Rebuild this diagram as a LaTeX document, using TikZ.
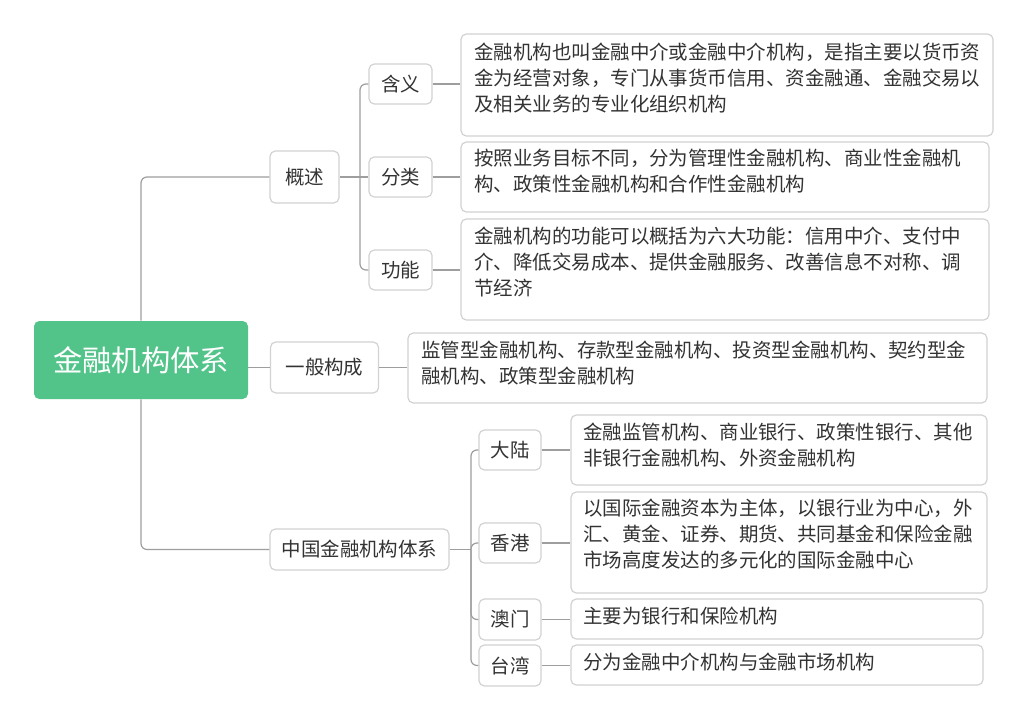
\documentclass[tikz,border=0pt]{standalone}
\usepackage{fontspec}
\setmainfont{Noto Sans CJK SC}
\usetikzlibrary{fit}
\definecolor{rootgreen}{HTML}{52C48A}
\definecolor{boxgray}{HTML}{D2D2D2}
\definecolor{linegray}{HTML}{9E9E9E}
\definecolor{textgray}{HTML}{333333}
\newcommand{\fstrut}{\rule{0pt}{15pt}}
\tikzset{
  conn/.style={draw=linegray, line width=0.9pt, rounded corners=4.5pt},
  topic/.style={draw=boxgray, line width=0.9pt, rounded corners=4pt, fill=white,
    text=textgray, font=\fontsize{14.6}{19.5}\selectfont, inner sep=0pt},
  dbox/.style={draw=boxgray, line width=0.9pt, rounded corners=4pt, fill=white, inner sep=0pt},
  dtext/.style={text=textgray, font=\fontsize{14.6}{19.5}\selectfont, inner sep=0pt,
    align=left, anchor=north west},
  rootbox/.style={fill=rootgreen, rounded corners=4pt, text=white,
    font=\fontsize{22}{26}\selectfont, inner sep=0pt,
    minimum width=160.5pt, minimum height=58.5pt},
}
\begin{document}
\begin{tikzpicture}[x=0.75pt, y=-0.75pt]
\useasboundingbox[fill=white] (0,0) rectangle (1027,720);

% root
\node[rootbox] (root) at (141,360) {金融机构体系};

% level 1
\node[topic, minimum width=51.75pt, minimum height=39pt] (gaishu) at (304.5,177) {概述};
\node[topic, minimum width=81pt, minimum height=38.25pt] (yiban) at (324.5,367.5) {一般构成};
\node[topic, minimum width=134.25pt, minimum height=30.75pt] (zhongguo) at (359.5,549.5) {中国金融机构体系};

% level 2
\node[topic, minimum width=47.25pt, minimum height=30pt] (hanyi) at (400.5,84) {含义};
\node[topic, minimum width=47.25pt, minimum height=30pt] (fenlei) at (400.5,177) {分类};
\node[topic, minimum width=47.25pt, minimum height=30pt] (gongneng) at (400.5,270) {功能};
\node[topic, minimum width=46.5pt, minimum height=30pt] (dalu) at (510,450) {大陆};
\node[topic, minimum width=46.5pt, minimum height=30pt] (xianggang) at (510,543) {香港};
\node[topic, minimum width=46.5pt, minimum height=30.75pt] (aomen) at (510,619.5) {澳门};
\node[topic, minimum width=46.5pt, minimum height=30.75pt] (taiwan) at (510,665.5) {台湾};

% detail boxes
\node[dbox, fit={(461,34) (993,136)}] (d1) {};
\node[dbox, fit={(461,142) (989,212)}] (d2) {};
\node[dbox, fit={(461,219) (989,320)}] (d3) {};
\node[dbox, fit={(408,333) (987,403)}] (d4) {};
\node[dbox, fit={(571,415) (987,485)}] (d5) {};
\node[dbox, fit={(571,492) (987,593)}] (d6) {};
\node[dbox, fit={(571,599) (983,639)}] (d7) {};
\node[dbox, fit={(571,645) (983,685)}] (d8) {};

% detail texts
\node[dtext] (t1) at (474,39.4) {\fstrut{}金融机构也叫金融中介或金融中介机构，是指主要以货币资\\金为经营对象，专门从事货币信用、资金融通、金融交易以\\及相关业务的专业化组织机构};
\node[dtext] (t2) at (474,145.4) {\fstrut{}按照业务目标不同，分为管理性金融机构、商业性金融机\\构、政策性金融机构和合作性金融机构};
\node[dtext] (t3) at (474,223.4) {\fstrut{}金融机构的功能可以概括为六大功能：信用中介、支付中\\介、降低交易成本、提供金融服务、改善信息不对称、调\\节经济};
\node[dtext] (t4) at (421,337.4) {\fstrut{}监管型金融机构、存款型金融机构、投资型金融机构、契约型金\\融机构、政策型金融机构};
\node[dtext] (t5) at (583,419.4) {\fstrut{}金融监管机构、商业银行、政策性银行、其他\\非银行金融机构、外资金融机构};
\node[dtext] (t6) at (583,495.4) {\fstrut{}以国际金融资本为主体，以银行业为中心，外\\汇、黄金、证券、期货、共同基金和保险金融\\市场高度发达的多元化的国际金融中心};
\node[dtext] (t7) at (583,603.4) {\fstrut{}主要为银行和保险机构};
\node[dtext] (t8) at (583,649.4) {\fstrut{}分为金融中介机构与金融市场机构};

% branch points
\coordinate (b1) at (360,177);
\coordinate (b2) at (471,549.5);

% connectors from root
\draw[conn] (root.north) |- (gaishu.west);
\draw[conn] (root.east |- yiban.west) -- (yiban.west);
\draw[conn] (root.south) |- (zhongguo.west);

% 概述 branch
\draw[conn] (gaishu.east) -- (b1);
\draw[conn] (b1) |- (hanyi.west);
\draw[conn] (b1) -- (fenlei.west);
\draw[conn] (b1) |- (gongneng.west);

% 中国 branch
\draw[conn] (zhongguo.east) -- (b2);
\draw[conn] (b2) |- (dalu.west);
\draw[conn] (b2) |- (xianggang.west);
\draw[conn] (b2) |- (aomen.west);
\draw[conn] (b2) |- (taiwan.west);

% to details
\draw[conn] (hanyi.east) -- (hanyi.east -| d1.west);
\draw[conn] (fenlei.east) -- (fenlei.east -| d2.west);
\draw[conn] (gongneng.east) -- (gongneng.east -| d3.west);
\draw[conn] (yiban.east) -- (yiban.east -| d4.west);
\draw[conn] (dalu.east) -- (dalu.east -| d5.west);
\draw[conn] (xianggang.east) -- (xianggang.east -| d6.west);
\draw[conn] (aomen.east) -- (aomen.east -| d7.west);
\draw[conn] (taiwan.east) -- (taiwan.east -| d8.west);
\end{tikzpicture}
\end{document}
